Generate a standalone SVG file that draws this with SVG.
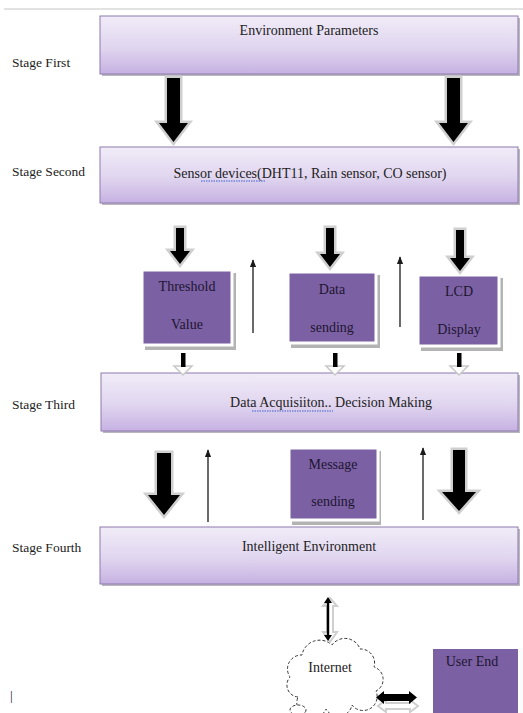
<svg xmlns="http://www.w3.org/2000/svg" width="523" height="713" viewBox="0 0 523 713" font-family="'Liberation Serif', 'Times New Roman', serif">
<defs>
<linearGradient id="stageFill" x1="0" y1="0" x2="0" y2="1">
<stop offset="0" stop-color="#f1ecf8"/>
<stop offset="0.55" stop-color="#e0d5ef"/>
<stop offset="1" stop-color="#c6b1e2"/>
</linearGradient>
<marker id="thinHead" viewBox="0 0 10 8" refX="9" refY="4" markerWidth="8" markerHeight="6.5" orient="auto" markerUnits="userSpaceOnUse">
<path d="M0 0 L10 4 L0 8 Z" fill="#1a1a1a"/>
</marker>
</defs>
<style>
text{font-family:"Liberation Serif","Times New Roman",serif;fill:#222;}
.lbl{font-size:13.5px;}
.big{font-size:14px;text-anchor:middle;}
.inner{font-size:14px;text-anchor:middle;fill:#1c1630;}
.stage{fill:url(#stageFill);stroke:#8d7aae;stroke-width:1;}
.shadow{fill:#9d9aa3;opacity:0.7;}
.pbox{fill:#7c60a4;stroke:#ffffff;stroke-width:3;}
.pshadow{fill:#b3b3b3;}
.halo{fill:#ffffff;stroke:#cfcfcf;stroke-width:5;stroke-linejoin:miter;}
.blk{fill:#000;}
.thin{stroke:#1a1a1a;stroke-width:1.3;fill:none;marker-end:url(#thinHead);}
.squig{stroke:#3a5fd0;stroke-width:1;fill:none;stroke-dasharray:1.5 1;}
</style>

<line x1="4" y1="9" x2="523" y2="9" stroke="#d9d9d9" stroke-width="1.5"/>

<g id="labels">
<text class="lbl" x="12" y="67">Stage First</text>
<text class="lbl" x="12" y="176">Stage Second</text>
<text class="lbl" x="12" y="409">Stage Third</text>
<text class="lbl" x="12" y="552">Stage Fourth</text>
<text class="lbl" x="10" y="700">|</text>
</g>

<g id="node-environment-parameters">
<rect class="shadow" x="102" y="18" width="418" height="58"/>
<rect class="stage" x="100" y="16" width="418" height="58"/>
<text class="big" x="309" y="35">Environment Parameters</text>
</g>

<g id="node-sensor-devices">
<rect class="shadow" x="102" y="149" width="418" height="56"/>
<rect class="stage" x="100" y="147" width="418" height="56"/>
<text class="big" x="310" y="178">Sensor devices(DHT11, Rain sensor, CO sensor)</text>
<path class="squig" d="M201 181 L266 181"/>
</g>

<g id="node-threshold-value">
<rect class="pshadow" x="145" y="273" width="91" height="77"/>
<rect class="pbox" x="142" y="270" width="90" height="75"/>
<text class="inner" x="187" y="291">Threshold</text>
<text class="inner" x="187" y="329">Value</text>
</g>

<g id="node-data-sending">
<rect class="pshadow" x="291" y="275" width="89" height="73"/>
<rect class="pbox" x="288" y="272" width="88" height="71"/>
<text class="inner" x="332" y="294">Data</text>
<text class="inner" x="332" y="332">sending</text>
</g>

<g id="node-lcd-display">
<rect class="pshadow" x="421" y="278" width="82" height="73"/>
<rect class="pbox" x="418" y="275" width="81" height="71"/>
<text class="inner" x="459" y="296">LCD</text>
<text class="inner" x="459" y="334">Display</text>
</g>

<g id="node-data-acquisition">
<rect class="shadow" x="103" y="375" width="417" height="58"/>
<rect class="stage" x="101" y="373" width="417" height="58"/>
<text class="big" x="331" y="407">Data Acquisiiton.. Decision Making</text>
<path class="squig" d="M252 411 L333 411"/>
</g>

<g id="node-message-sending">
<rect class="pshadow" x="292" y="451" width="89" height="74"/>
<rect class="pbox" x="289" y="448" width="89" height="72"/>
<text class="inner" x="333" y="469">Message</text>
<text class="inner" x="333" y="506">sending</text>
</g>

<g id="node-intelligent-environment">
<rect class="shadow" x="102" y="529" width="418" height="57"/>
<rect class="stage" x="100" y="527" width="418" height="57"/>
<text class="big" x="309" y="551">Intelligent Environment</text>
</g>

<g id="node-internet">
<path d="M298 697 a12 12 0 0 1 -8 -20 a14 14 0 0 1 12 -22 a18 18 0 0 1 30 -10 a16 16 0 0 1 28 4 a14 14 0 0 1 14 18 a13 13 0 0 1 2 24 a14 14 0 0 1 -24 14 a14 14 0 0 1 -26 4 a14 14 0 0 1 -28 -12 z" fill="#fff" stroke="#333" stroke-width="1" stroke-dasharray="3 2"/>
<ellipse cx="298" cy="710" rx="8" ry="5" fill="#fff" stroke="#333" stroke-width="1" stroke-dasharray="3 2"/>
<text x="330" y="672" style="font-size:14px;text-anchor:middle;">Internet</text>
</g>

<g id="node-user-end">
<rect x="431" y="648" width="92" height="70" fill="#fbfbfb"/>
<rect x="432" y="648" width="87" height="70" fill="#7c60a4" stroke="#ffffff" stroke-width="2"/>
<text class="inner" x="472" y="666">User End</text>
</g>

<g id="connectors">
<path class="halo" d="M167 78 H180 V123 H188 L173.5 142 L159 123 H167 Z"/>
<path class="blk" d="M167 78 H180 V123 H188 L173.5 142 L159 123 H167 Z"/>
<path class="halo" d="M447 78 H460 V123 H468 L453.5 142 L439 123 H447 Z"/>
<path class="blk" d="M447 78 H460 V123 H468 L453.5 142 L439 123 H447 Z"/>

<path class="halo" d="M176 228 H184 V251 H190 L180 264 L170 251 H176 Z"/>
<path class="blk" d="M176 228 H184 V251 H190 L180 264 L170 251 H176 Z"/>
<path class="halo" d="M326 228 H334 V254 H340 L330 267 L320 254 H326 Z"/>
<path class="blk" d="M326 228 H334 V254 H340 L330 267 L320 254 H326 Z"/>
<path class="halo" d="M456 230 H464 V258 H470 L460 271 L450 258 H456 Z"/>
<path class="blk" d="M456 230 H464 V258 H470 L460 271 L450 258 H456 Z"/>

<line class="thin" x1="253" y1="333" x2="253" y2="260"/>
<line class="thin" x1="400" y1="327" x2="400" y2="257"/>

<path d="M174 366 L192 366 L183 375 Z" fill="#fff" stroke="#c8c8c8" stroke-width="1.5"/>
<rect x="181" y="353" width="4.5" height="14" class="blk"/>
<path d="M326 366 L344 366 L335 375 Z" fill="#fff" stroke="#c8c8c8" stroke-width="1.5"/>
<rect x="333" y="353" width="4.5" height="14" class="blk"/>
<path d="M450 366 L468 366 L459 375 Z" fill="#fff" stroke="#c8c8c8" stroke-width="1.5"/>
<rect x="457" y="353" width="4.5" height="14" class="blk"/>

<path class="halo" d="M157 453 H171 V495 H180 L164 515 L148 495 H157 Z"/>
<path class="blk" d="M157 453 H171 V495 H180 L164 515 L148 495 H157 Z"/>
<path class="halo" d="M453 450 H465 V492 H476 L459 511 L442 492 H453 Z"/>
<path class="blk" d="M453 450 H465 V492 H476 L459 511 L442 492 H453 Z"/>
<line class="thin" x1="208" y1="522" x2="208" y2="450"/>
<line class="thin" x1="423" y1="520" x2="423" y2="448"/>

<path d="M330 598 L337 606 H333 V632 H337 L330 642 L323 632 H327 V606 H323 Z" fill="#fff" stroke="#cfcfcf" stroke-width="2"/>
<path d="M328 597 L332 603 H329.2 V635 H332 L328 641 L324 635 H326.8 V603 H324 Z" fill="#000"/>

<path d="M378 706 L386 700 V703 H410 V700 L418 706 L410 712 V709 H386 V712 Z" fill="#fff" stroke="#cfcfcf" stroke-width="2"/>
<path d="M376 697.5 L384 691 V694 H409 V691 L417 697.5 L409 704 V701 H384 V704 Z" fill="#000"/>
</g>
</svg>
